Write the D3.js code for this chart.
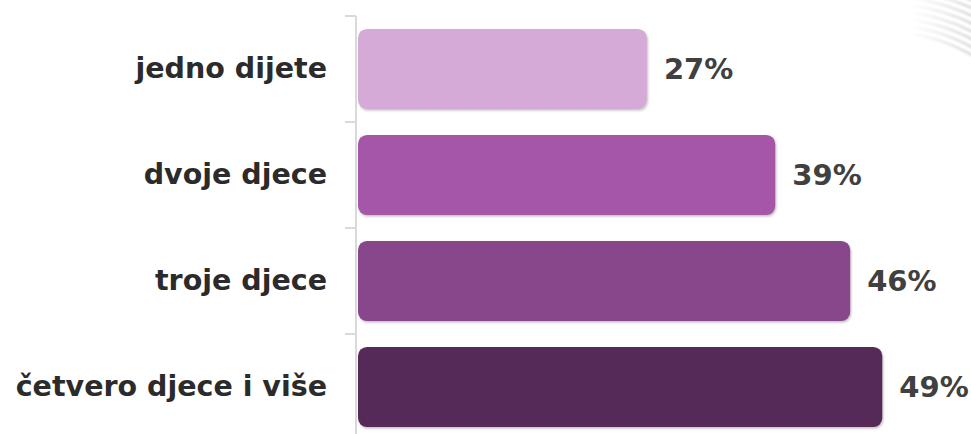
<!DOCTYPE html>
<html>
<head>
    <meta charset="utf-8">
    <title>Djeca</title>
    <script src="https://d3js.org/d3.v7.min.js"></script>
    <style>
        body { margin: 0; background: #fff; }
    </style>
</head>
<body>
    <svg width="971" height="434"></svg>
    <script>
        const categories = ["jedno dijete", "dvoje djece", "troje djece", "četvero djece i više"]
        const values = [27, 39, 46, 49]
        const colors = ["#D5AAD6", "#A656A9", "#87468A", "#552B58"]

        const svg = d3.select("svg")
        const width = +svg.attr("width")
        const height = +svg.attr("height")

        // drop shadow for bars
        const defs = svg.append("defs")
        const f = defs.append("filter").attr("id", "shadow")
            .attr("x", "-5%").attr("y", "-10%").attr("width", "110%").attr("height", "125%")
        f.append("feDropShadow").attr("dx", 1).attr("dy", 1.5).attr("stdDeviation", 1.2)
            .attr("flood-color", "#000").attr("flood-opacity", 0.25)

        const blur = defs.append("filter").attr("id", "soft")
        blur.append("feGaussianBlur").attr("stdDeviation", 0.8)
        // gradient coords are local to the translated arc group (origin at 885,205)
        const fade = defs.append("linearGradient").attr("id", "fade")
            .attr("gradientUnits", "userSpaceOnUse")
            .attr("x1", 25).attr("x2", 86).attr("y1", 0).attr("y2", 0)
        fade.append("stop").attr("offset", 0).attr("stop-color", "#fff")
        fade.append("stop").attr("offset", 1).attr("stop-color", "#d8d8d8")

        // faint decorative arcs, top right corner
        const deco = svg.append("g")
            .attr("transform", "translate(885,205)")
            .attr("filter", "url(#soft)")
        d3.range(9).forEach(i => {
            const r = 172 + i * 7
            deco.append("path")
                .attr("d", d3.arc()({ innerRadius: r, outerRadius: r + 2.5, startAngle: 0.1, endAngle: 0.9 }))
                .attr("fill", "url(#fade)")
        })

        const x = d3.scaleLinear().domain([0, 50]).range([358, 893])
        const y = d3.scaleBand().domain(categories).range([16, 440])
            .paddingInner(0.245).paddingOuter(0.1225)

        // axis line and ticks
        const axisX = 356
        svg.append("line")
            .attr("x1", axisX).attr("x2", axisX)
            .attr("y1", 16).attr("y2", height)
            .attr("stroke", "#D9D9D9").attr("stroke-width", 2)
        const step = y.step()
        svg.selectAll(".tick")
            .data(d3.range(categories.length + 1))
            .enter().append("line")
            .attr("x1", axisX - 11).attr("x2", axisX)
            .attr("y1", d => 16 + d * step).attr("y2", d => 16 + d * step)
            .attr("stroke", "#D9D9D9").attr("stroke-width", 2)

        svg.selectAll(".bar")
            .data(values)
            .enter().append("rect")
            .attr("x", x(0))
            .attr("y", (d, i) => y(categories[i]))
            .attr("width", d => x(d) - x(0))
            .attr("height", y.bandwidth())
            .attr("rx", 9)
            .attr("fill", (d, i) => colors[i])
            .attr("filter", "url(#shadow)")

        svg.selectAll(".cat")
            .data(categories)
            .enter().append("text")
            .attr("x", 327)
            .attr("y", d => y(d) + y.bandwidth() / 2)
            .attr("dy", "0.33em")
            .attr("text-anchor", "end")
            .style("font-family", "'DejaVu Sans', sans-serif")
            .style("font-weight", 700)
            .style("font-size", "28.5px")
            .attr("fill", "#2B2B2B")
            .text(d => d)

        svg.selectAll(".val")
            .data(values)
            .enter().append("text")
            .attr("x", d => x(d) + 17)
            .attr("y", (d, i) => y(categories[i]) + y.bandwidth() / 2)
            .attr("dy", "0.35em")
            .style("font-family", "'DejaVu Sans', sans-serif")
            .style("font-weight", 700)
            .style("font-size", "29px")
            .attr("fill", "#404040")
            .text(d => d + "%")
    </script>
</body>
</html>
